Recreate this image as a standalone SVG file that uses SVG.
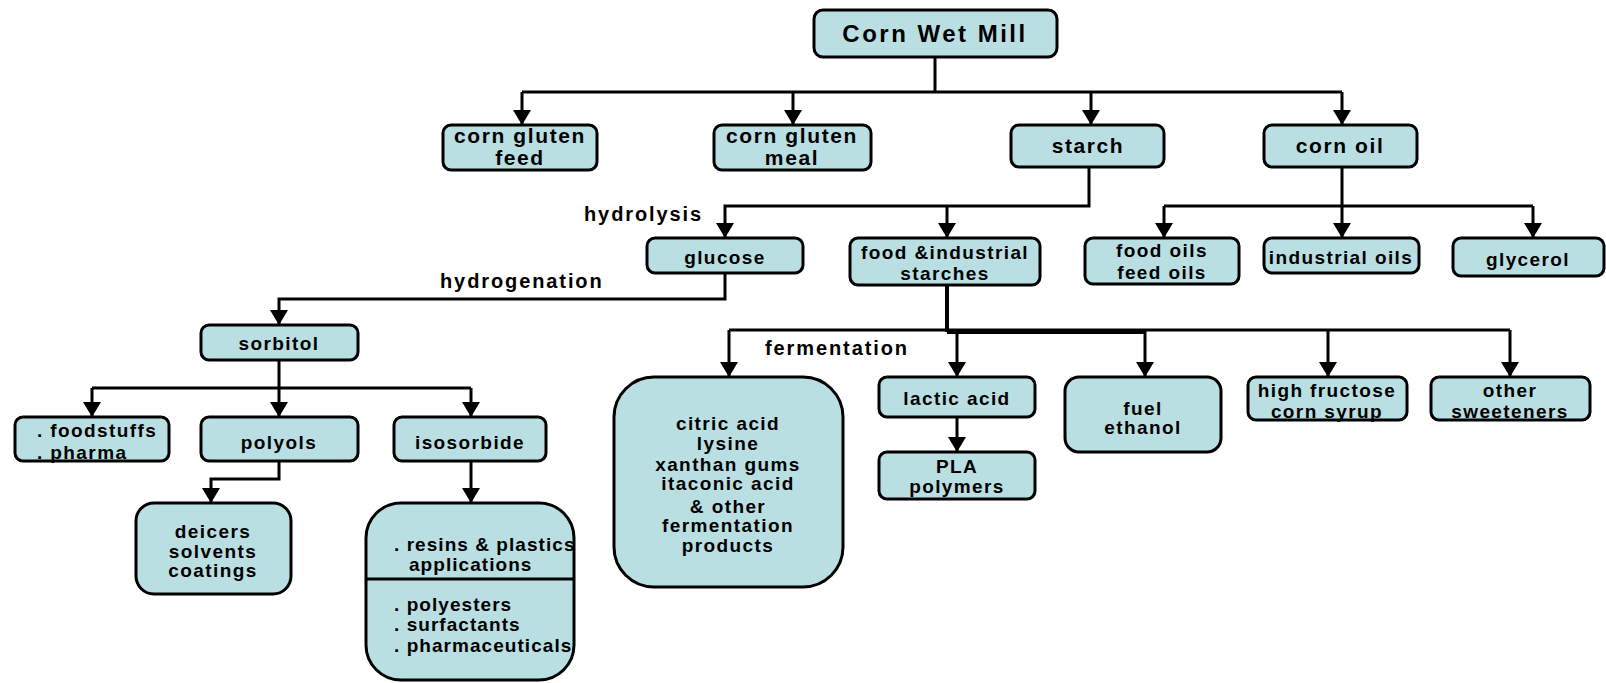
<svg xmlns="http://www.w3.org/2000/svg" width="1606" height="683" viewBox="0 0 1606 683">
<style>
.box{fill:#badfe3;stroke:#000;stroke-width:3}
.t{font-family:"Liberation Sans",Arial,sans-serif;font-weight:bold;font-size:19px;letter-spacing:1.4px;fill:#000;text-anchor:middle}
.r1{font-size:21px;letter-spacing:1.6px}
.l{text-anchor:start}
.rs{letter-spacing:1.05px}
.lab{font-family:"Liberation Sans",Arial,sans-serif;font-weight:bold;font-size:20px;letter-spacing:1.9px;fill:#000}
.c{fill:none;stroke:#000;stroke-width:3}
.a{marker-end:url(#ar)}
</style>
<defs>
<marker id="ar" markerUnits="userSpaceOnUse" markerWidth="16" markerHeight="18" refX="15" refY="9" orient="auto" viewBox="0 0 16 18">
<path d="M0,0 L15,9 L0,18 z" fill="#000"/>
</marker>
</defs>
<g id="connectors">
<path class="c" d="M935 57 V92 M522 92 H1342"/>
<path class="c a" d="M522 92 V125"/>
<path class="c a" d="M793 92 V125"/>
<path class="c a" d="M1091 92 V125"/>
<path class="c a" d="M1342 92 V125"/>
<path class="c a" d="M1089 167 V206 H725 V238"/>
<path class="c a" d="M947 206 V238"/>
<path class="c" d="M1342 167 V206 M1164 206 H1533"/>
<path class="c a" d="M1164 206 V238"/>
<path class="c a" d="M1342 206 V238"/>
<path class="c a" d="M1533 206 V238"/>
<path class="c a" d="M725 273 V299 H279 V325"/>
<path class="c" d="M279 360 V388 M92 388 H471"/>
<path class="c a" d="M92 388 V417"/>
<path class="c a" d="M279 388 V417"/>
<path class="c a" d="M471 388 V417"/>
<path class="c a" d="M279 461 V479 H211 V503"/>
<path class="c a" d="M471 461 V503"/>
<path class="c" style="stroke-width:4" d="M947 285 V332"/>
<path class="c" d="M729 330 H1510"/>
<path class="c" d="M947 332.5 H1145"/>
<path class="c a" d="M729 330 V377"/>
<path class="c a" d="M957 330 V377"/>
<path class="c a" d="M1145 330 V377"/>
<path class="c a" d="M1328 330 V377"/>
<path class="c a" d="M1510 330 V377"/>
<path class="c a" d="M957 417 V452"/>
</g>
<g id="corn-wet-mill"><rect class="box" x="814" y="10" width="243" height="47" rx="9"/><text class="t" x="935" y="42" style="font-size:24px;letter-spacing:2.5px">Corn Wet Mill</text></g>
<g id="corn-gluten-feed"><rect class="box" x="443" y="125" width="154" height="45" rx="8"/><text class="t r1" x="520" y="143">corn gluten</text><text class="t r1" x="520" y="165">feed</text></g>
<g id="corn-gluten-meal"><rect class="box" x="714" y="125" width="157" height="45" rx="8"/><text class="t r1" x="792" y="143">corn gluten</text><text class="t r1" x="792" y="165">meal</text></g>
<g id="starch"><rect class="box" x="1011" y="125" width="153" height="42" rx="8"/><text class="t r1" x="1088" y="153">starch</text></g>
<g id="corn-oil"><rect class="box" x="1264" y="125" width="153" height="42" rx="8"/><text class="t r1" x="1340" y="153">corn oil</text></g>
<text class="lab" x="584" y="221">hydrolysis</text>
<g id="glucose"><rect class="box" x="647" y="238" width="156" height="35" rx="8"/><text class="t" x="725" y="264">glucose</text></g>
<g id="food-industrial-starches"><rect class="box" x="850" y="238" width="190" height="47" rx="8"/><text class="t" x="945" y="259">food &amp;industrial</text><text class="t" x="945" y="280">starches</text></g>
<g id="food-oils"><rect class="box" x="1085" y="238" width="154" height="46" rx="8"/><text class="t" x="1162" y="257">food oils</text><text class="t" x="1162" y="279">feed oils</text></g>
<g id="industrial-oils"><rect class="box" x="1264" y="238" width="155" height="35" rx="8"/><text class="t" x="1341" y="264">industrial oils</text></g>
<g id="glycerol"><rect class="box" x="1453" y="238" width="151" height="38" rx="8"/><text class="t" x="1528" y="266">glycerol</text></g>
<text class="lab" x="440" y="288">hydrogenation</text>
<g id="sorbitol"><rect class="box" x="201" y="325" width="157" height="35" rx="8"/><text class="t" x="279" y="350">sorbitol</text></g>
<g id="foodstuffs"><rect class="box" x="15" y="417" width="154" height="44" rx="8"/><text class="t l" x="37" y="437">. foodstuffs</text><text class="t l" x="37" y="459">. pharma</text></g>
<g id="polyols"><rect class="box" x="201" y="417" width="157" height="44" rx="8"/><text class="t" x="279" y="449">polyols</text></g>
<g id="isosorbide"><rect class="box" x="394" y="417" width="152" height="44" rx="8"/><text class="t" x="470" y="449">isosorbide</text></g>
<g id="deicers"><rect class="box" x="136" y="503" width="155" height="91" rx="18"/><text class="t" x="213" y="538">deicers</text><text class="t" x="213" y="558">solvents</text><text class="t" x="213" y="577">coatings</text></g>
<g id="resins"><rect class="box" x="366" y="503" width="208" height="177" rx="35"/><path class="c" d="M366 579 H574"/><text class="t l rs" x="394" y="551">. resins &amp; plastics</text><text class="t l rs" x="409" y="571">applications</text><text class="t l rs" x="394" y="611">. polyesters</text><text class="t l rs" x="394" y="631">. surfactants</text><text class="t l rs" x="394" y="652">. pharmaceuticals</text></g>
<text class="lab" x="765" y="355">fermentation</text>
<g id="citric-acid"><rect class="box" x="614" y="377" width="229" height="210" rx="40"/><text class="t" x="728" y="430">citric acid</text><text class="t" x="728" y="450">lysine</text><text class="t" x="728" y="471">xanthan gums</text><text class="t" x="728" y="490">itaconic acid</text><text class="t" x="728" y="513">&amp; other</text><text class="t" x="728" y="532">fermentation</text><text class="t" x="728" y="552">products</text></g>
<g id="lactic-acid"><rect class="box" x="879" y="377" width="156" height="40" rx="8"/><text class="t" x="957" y="405">lactic acid</text></g>
<g id="pla-polymers"><rect class="box" x="879" y="452" width="156" height="47" rx="8"/><text class="t" x="957" y="473">PLA</text><text class="t" x="957" y="493">polymers</text></g>
<g id="fuel-ethanol"><rect class="box" x="1065" y="377" width="156" height="75" rx="14"/><text class="t" x="1143" y="415">fuel</text><text class="t" x="1143" y="434">ethanol</text></g>
<g id="hfcs"><rect class="box" x="1248" y="377" width="159" height="43" rx="8"/><text class="t" x="1327" y="397">high fructose</text><text class="t" x="1327" y="418">corn syrup</text></g>
<g id="other-sweeteners"><rect class="box" x="1431" y="377" width="159" height="43" rx="8"/><text class="t" x="1510" y="397">other</text><text class="t" x="1510" y="418">sweeteners</text></g>
</svg>
